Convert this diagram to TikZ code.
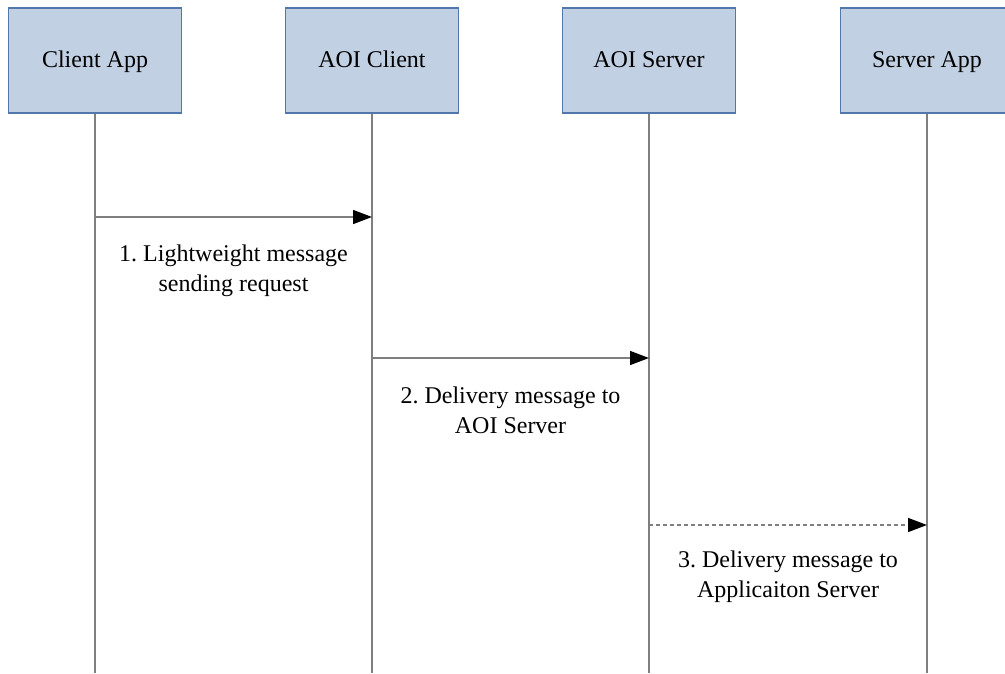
\documentclass[tikz,border=0pt]{standalone}
\usepackage{fontspec}
\setmainfont{Liberation Serif}
\usetikzlibrary{arrows.meta}
\frenchspacing

\definecolor{boxfill}{HTML}{C1D0E3}
\definecolor{boxline}{HTML}{5277AA}
\definecolor{lifeline}{HTML}{7F7F7F}

\begin{document}
\begin{tikzpicture}[x=1pt,y=-1pt,font=\fontsize{24}{30}\selectfont,
    actor/.style={draw=boxline,line width=1.3pt,fill=boxfill,minimum width=173pt,minimum height=105pt,inner sep=0pt,text depth=2pt},
    life/.style={draw=lifeline,line width=1.5pt},
    msg/.style={draw=lifeline,line width=1.5pt,-{Triangle[length=19pt,width=14pt,color=black]}},
    note/.style={align=center,inner sep=0pt}]
    \useasboundingbox (0,0) rectangle (1005,673);

    % Participants.
    \node[actor] (ca) at (95,60.5) {Client App};
    \node[actor] (ac) at (372,60.5) {AOI Client};
    \node[actor] (as) at (649,60.5) {AOI Server};
    \node[actor] (sa) at (927,60.5) {Server App};

    % Lifelines.
    \coordinate (caend) at (95,673);
    \coordinate (acend) at (372,673);
    \coordinate (asend) at (649,673);
    \coordinate (saend) at (927,673);
    \draw[life] (ca.south) -- (caend);
    \draw[life] (ac.south) -- (acend);
    \draw[life] (as.south) -- (asend);
    \draw[life] (sa.south) -- (saend);

    % Message points.
    \coordinate (m1a) at (95,217);
    \coordinate (m1b) at (372,217);
    \coordinate (m2a) at (372,358);
    \coordinate (m2b) at (649,358);
    \coordinate (m3a) at (649,525);
    \coordinate (m3b) at (927,525);

    % Messages.
    \draw[msg] (m1a) -- (m1b);
    \draw[msg] (m2a) -- (m2b);
    \draw[msg,dash pattern=on 4pt off 3pt] (m3a) -- (m3b);
    \node[note] (l1) at (233.5,271) {1. Lightweight message\\sending request};
    \node[note] (l2) at (510.5,410) {2. Delivery message to\\AOI Server};
    \node[note] (l3) at (788,577) {3. Delivery message to\\Applicaiton Server};
\end{tikzpicture}
\end{document}
